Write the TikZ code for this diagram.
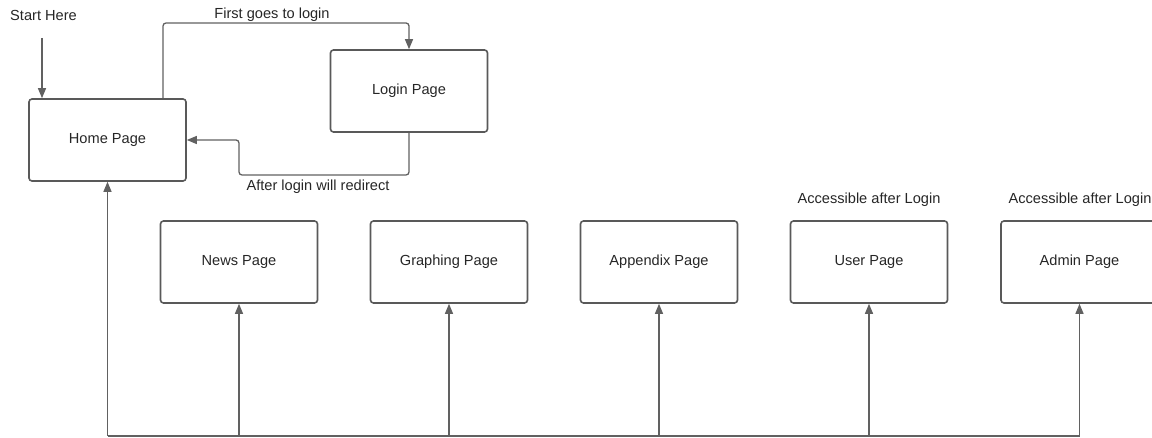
\documentclass[tikz,border=0pt]{standalone}
\usepackage{fontspec}
\setmainfont{Liberation Sans}
\usetikzlibrary{arrows.meta}

\begin{document}
\begin{tikzpicture}
[
    x=1pt, y=-1pt,
    font=\fontsize{14.6}{17}\selectfont,
    page/.style={draw=black!65, line width=1.6pt, rounded corners=3pt,
        minimum width=157pt, minimum height=82pt, text=black!85},
    link/.style={draw=black!62, line width=1.3pt, rounded corners=3pt,
        -{Triangle[length=10pt,width=8pt]}},
    bus/.style={draw=black!62, line width=1.3pt, rounded corners=3pt},
    note/.style={text=black!85, inner sep=1pt},
]
\useasboundingbox (0,0) rectangle (1152,438);

% pages
\node [page] (home) at (107.5,140) {Home Page};
\node [page] (login) at (409,91) {Login Page};
\node [page] (news) at (239,262) {News Page};
\node [page] (graph) at (449,262) {Graphing Page};
\node [page] (appendix) at (659,262) {Appendix Page};
\node [page] (user) at (869,262) {User Page};
\node [page] (admin) at (1079.5,262) {Admin Page};

% labels
\node [note] (start) at (43.5,15) {Start Here};
\node [note] (first) at (272,15) {First goes to login};
\node [note] (after) at (318,187) {After login will redirect};
\node [note] (useracc) at (869,200) {Accessible after Login};
\node [note] (adminacc) at (1080,200) {Accessible after Login};

% login loop
\coordinate (startend) at (42,38);
\draw [link] (startend) -- (home.north west -| startend);
\draw [link] (home.north -| 163,0) |- (409,23) -- (login.north);
\draw [link] (login.south) |- (239,175) |- (home.east);

% bus along the bottom
\coordinate (busleft) at (107.5,436);
\coordinate (busright) at (1079.5,436);
\draw [bus] (home.south |- busleft) -- (busright);
\draw [link] (busleft) -- (home.south);
\draw [link] (news.south |- busleft) -- (news.south);
\draw [link] (graph.south |- busleft) -- (graph.south);
\draw [link] (appendix.south |- busleft) -- (appendix.south);
\draw [link] (user.south |- busleft) -- (user.south);
\draw [link] (busright) -- (admin.south);
\end{tikzpicture}
\end{document}
